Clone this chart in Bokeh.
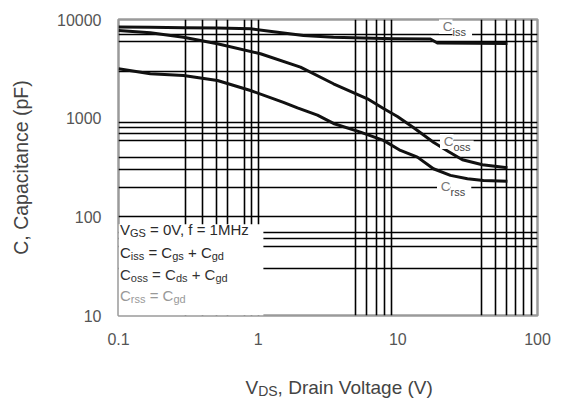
import math
from bokeh.plotting import figure
from bokeh.layouts import column
from bokeh.models import FixedTicker, CustomJSTickFormatter, Label, Range1d
from bokeh.core.properties import value
from bokeh.embed import file_html
from bokeh.resources import INLINE

FONT = "Liberation Sans"
NB = "\u00a0"

# ---------------- data ----------------
vds_ciss = [0.1, 0.169, 0.292, 0.511, 0.881, 1.375, 2.11, 3.46, 9.3, 17.1, 19.2, 60.9]
ciss_pf = [8395, 8337, 8259, 8183, 8050, 7437, 6885, 6618, 6376, 6346, 5780, 5713]

vds_coss = [0.1, 0.169, 0.292, 0.511, 1.039, 2.008, 3.46, 6.06, 7.89, 9.93, 12.92,
            17.98, 23.0, 29.0, 40.3, 60.9]
coss_pf = [7739, 7333, 6618, 5673, 4493, 3286, 2231, 1573, 1254, 1040, 805,
           571, 460, 379, 337, 314]

vds_crss = [0.1, 0.169, 0.292, 0.511, 0.881, 1.517, 1.911, 2.657, 3.46, 5.40, 7.89,
            10.44, 13.81, 17.98, 23.8, 31.5, 41.0, 60.9]
crss_pf = [3166, 2817, 2708, 2410, 1908, 1443, 1269, 1072, 884, 721, 595,
           471, 403, 307, 263, 243, 234, 230]

x_ticks = [0.1, 1, 10, 100]
y_ticks = [10, 100, 1000, 10000]
x_grid = [0.3, 0.4, 0.5, 0.6, 0.8, 0.9, 1, 5, 6, 7, 8, 9, 40, 50, 60, 70, 80, 90]
y_grid = [7000, 6000, 3000, 900, 800, 700, 600, 400, 300, 200, 100, 70, 60, 50, 30]

note_left, note_right, note_bottom, note_top = [0.1], [1.09], [10], [84]

# ---------------- main figure ----------------
FL, FT, FW, FH = 118, 19, 419, 296
W_TOTAL, H_MAIN, H_XLAB = 560, 360, 40
FR = W_TOTAL - FL - FW
p = figure(x_axis_type="log", y_axis_type="log",
           x_range=Range1d(0.1, 100), y_range=Range1d(10, 10000),
           frame_width=FW, frame_height=FH,
           min_border_left=FL, min_border_right=FR, min_border_top=FT,
           min_border_bottom=H_MAIN - FT - FH,
           output_backend="svg", toolbar_location=None)
p.background_fill_color = "white"
p.border_fill_color = "white"
p.outline_line_color = "#9a9a9a"
p.outline_line_width = 2.5

for ax, ticks, standoff in ((p.xaxis, x_ticks, 11), (p.yaxis, y_ticks, 11)):
    ax.ticker = FixedTicker(ticks=ticks, minor_ticks=[])
    ax.formatter = CustomJSTickFormatter(code="return tick < 1 ? tick.toFixed(1) : tick.toFixed(0);")
    ax.axis_line_color = None
    ax.major_tick_line_color = None
    ax.minor_tick_line_color = None
    ax.major_label_text_font = FONT
    ax.major_label_text_font_size = "16px"
    ax.major_label_text_color = "#555555"
    ax.major_label_standoff = standoff

p.yaxis.axis_label = "C, Capacitance (pF)"
p.yaxis.axis_label_text_font = FONT
p.yaxis.axis_label_text_font_size = "19.5px"
p.yaxis.axis_label_text_font_style = "normal"
p.yaxis.axis_label_text_color = "#444444"
p.yaxis.axis_label_standoff = 22

p.xgrid.ticker = FixedTicker(ticks=x_grid, minor_ticks=[])
p.ygrid.ticker = FixedTicker(ticks=y_grid, minor_ticks=[])
for g in (p.xgrid, p.ygrid):
    g.grid_line_color = "black"
    g.grid_line_width = 1.6
    g.grid_line_alpha = 1.0
    g.minor_grid_line_color = None

# white note area that hides the grid
p.quad(left=note_left, right=note_right, bottom=note_bottom, top=note_top,
       fill_color="white", line_color=None)

for xs, ys in ((vds_ciss, ciss_pf), (vds_coss, coss_pf), (vds_crss, crss_pf)):
    p.line(xs, ys, line_color="#111111", line_width=3, line_join="round")

# ---------------- text helpers ----------------
W = {' ': 278, NB: 278, ',': 278, '.': 278, '=': 584, '+': 584, '0': 556, '1': 556, 'V': 667,
     'f': 278, 'M': 833, 'H': 722, 'z': 500, 'C': 722, 'G': 778, 'S': 667, 'D': 722,
     'i': 222, 's': 500, 'o': 556, 'r': 333, 'g': 556, 'd': 556, 'a': 556, 'n': 556,
     'l': 222, 't': 278, 'e': 556, '(': 333, ')': 333, 'p': 556, 'F': 611, 'c': 500}

def tw(text, size):
    return sum(W.get(ch, 556) for ch in text) * size / 1000.0

SX0, SY0 = FL, FT + FH   # frame left / bottom in canvas px
LIFT = 6                 # measured baseline correction of rendered labels

def pieces(sx, base, parts, bg=None):
    x = sx
    for text, size, dy, color in parts:
        t = text.replace(" ", NB)
        p.add_layout(Label(x=x - SX0, y=SY0 - (base + dy) + LIFT, x_units="screen", y_units="screen",
                           text=t, text_font=FONT, text_font_size=f"{size}px",
                           text_color=color, text_align="left", text_baseline="alphabetic",
                           background_fill_color=bg))
        x += tw(t, size)

M, S = 15, 11
dark = "#2a2a2a"
pieces(119.5, 235, [("V", M, 0, dark), ("GS", S, 3, dark), (" = 0V, f = 1MHz", M, 0, dark)])
pieces(119.5, 258, [("C", M, 0, dark), ("iss", S, 3, dark), (" = C", M, 0, dark),
                    ("gs", S, 3, dark), (" + C", M, 0, dark), ("gd", S, 3, dark)])
pieces(119.5, 280, [("C", M, 0, "#333333"), ("oss", S, 3, "#333333"), (" = C", M, 0, "#333333"),
                    ("ds", S, 3, "#333333"), (" + C", M, 0, "#333333"), ("gd", S, 3, "#333333")])
pieces(119.5, 301, [("C", M, 0, "#999999"), ("rss", S, 3, "#999999"), (" = C", M, 0, "#999999"),
                    ("gd", S, 3, "#999999")])

# curve labels
for sx, base, sub in ((438.5, 32, "iss  "), (439.5, 147, "oss "), (436.5, 192, "rss  ")):
    pieces(sx, base, [(" C", 13.5, 0, "#777777"), (sub, 11, 5, "#444444")], bg="white")

# ---------------- x-axis title strip (below the main figure) ----------------
px = figure(width=W_TOTAL, height=H_XLAB,
            x_range=Range1d(FL, FL + FW), y_range=Range1d(0, H_XLAB),
            min_border_left=FL, min_border_right=FR, min_border_top=0, min_border_bottom=0,
            x_axis_location=None, y_axis_location=None,
            output_backend="svg", toolbar_location=None)
px.outline_line_color = None
px.background_fill_color = "white"
px.border_fill_color = "white"
px.xgrid.visible = False
px.ygrid.visible = False

xlab_parts = [("V", 19, 0), ("DS", 14, 3), (", Drain Voltage (V)", 19, 0)]
xlab_base = 393
cx = 245.0
for text, size, dy in xlab_parts:
    t = text.replace(" ", NB)
    px.text(x=[cx], y=[H_MAIN + H_XLAB - (xlab_base + dy) + LIFT], text=[t],
            text_font=value(FONT), text_font_size=f"{size}px", text_color="#444444",
            text_align="left", text_baseline="alphabetic")
    cx += tw(t, size)

open("out.html", "w").write(file_html(column(p, px), INLINE))
